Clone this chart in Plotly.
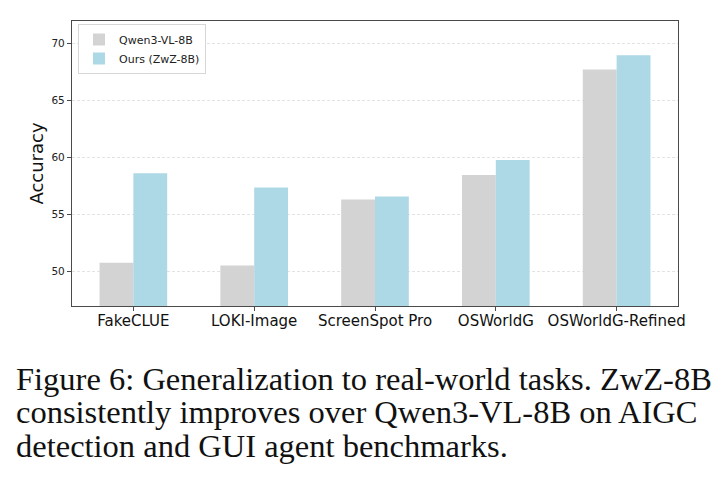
import plotly.graph_objects as go

categories = ["FakeCLUE", "LOKI-Image", "ScreenSpot Pro", "OSWorldG", "OSWorldG-Refined"]
qwen_values = [50.8, 50.55, 56.35, 58.5, 67.75]
ours_values = [58.65, 57.4, 56.6, 59.8, 69.0]
series_names = ["Qwen3-VL-8B", "Ours (ZwZ-8B)"]
y_ticks = [50, 55, 60, 65, 70]
caption_lines = [
    "Figure 6: Generalization to real-world tasks. ZwZ-8B",
    "consistently improves over Qwen3-VL-8B on AIGC",
    "detection and GUI agent benchmarks.",
]

W, H = 722, 483
L, R, T, B = 72, 678, 21, 306  # plot area in pixels

def px_x(px):
    return (px - L) / (R - L)

def px_y(py):
    return (B - py) / (B - T)

fig = go.Figure()
fig.add_trace(go.Bar(x=categories, y=qwen_values, name=series_names[0],
                     marker=dict(color="#D3D3D3", line=dict(width=0))))
fig.add_trace(go.Bar(x=categories, y=ours_values, name=series_names[1],
                     marker=dict(color="#ADD8E6", line=dict(width=0))))

font_sans = "DejaVu Sans"

annotations = []
baselines = [391, 424, 458]
for line, bl in zip(caption_lines, baselines):
    annotations.append(dict(
        text=line, xref="paper", yref="paper",
        x=px_x(14), y=px_y(bl + 8), xanchor="left", yanchor="bottom",
        showarrow=False, align="left",
        font=dict(family="Liberation Serif", size=32.5, color="#111"),
    ))

fig.update_layout(
    width=W, height=H,
    margin=dict(l=L, r=W - R, t=T, b=H - B, pad=0),
    paper_bgcolor="white", plot_bgcolor="white",
    barmode="group", bargap=0.44, bargroupgap=0,
    font=dict(family=font_sans, color="#222"),
    legend=dict(
        x=px_x(78), y=px_y(24), xanchor="left", yanchor="top",
        bgcolor="white", bordercolor="#d6d6d6", borderwidth=1,
        font=dict(size=11, family=font_sans, color="#222"),
    ),
    xaxis=dict(
        range=[-0.508, 4.508], showgrid=False,
        showline=True, mirror=True, linecolor="#4a4a4a", linewidth=1.2,
        ticks="outside", ticklen=4, tickcolor="#4a4a4a", tickwidth=1,
        tickfont=dict(size=15, family=font_sans, color="#111"),
        ticklabelstandoff=-3,
        automargin=False,
    ),
    yaxis=dict(
        range=[47, 72], tickvals=y_ticks,
        showgrid=True, gridcolor="#e3e3e3", griddash="3px,2px", gridwidth=1,
        zeroline=False,
        showline=True, mirror=True, linecolor="#4a4a4a", linewidth=1.2,
        ticks="outside", ticklen=4, tickcolor="#4a4a4a", tickwidth=1,
        tickfont=dict(size=10.5, family=font_sans, color="#222"),
        title=dict(text="Accuracy", standoff=3,
                   font=dict(size=18, family=font_sans, color="#111")),
        automargin=False,
    ),
    annotations=annotations,
)

fig.write_html("out.html")
